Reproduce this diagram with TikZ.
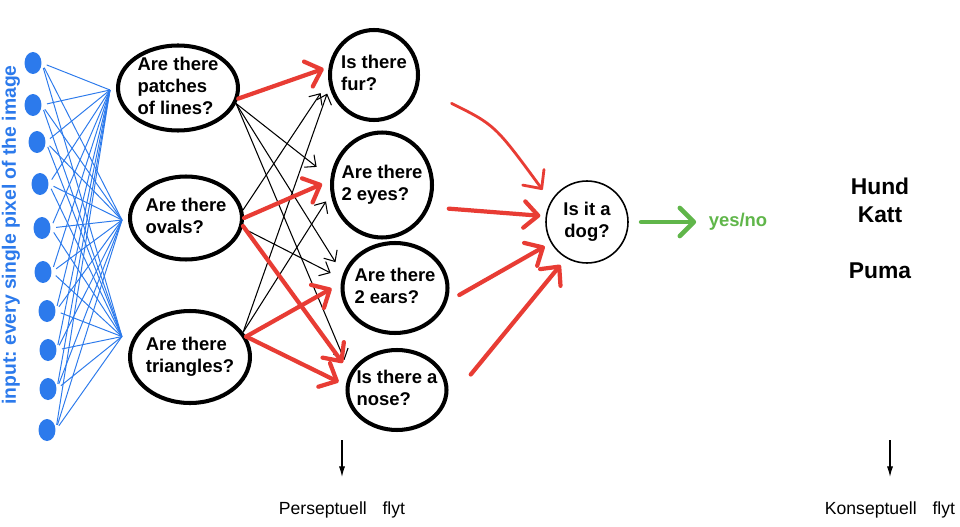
\documentclass[tikz,border=0pt]{standalone}
\usepackage{fontspec}
\setmainfont{Liberation Sans}
\usetikzlibrary{shapes.geometric,arrows.meta,calc}
\definecolor{inblue}{RGB}{44,122,236}
\definecolor{hred}{RGB}{232,60,52}
\definecolor{hgreen}{RGB}{96,182,74}
\newcommand\qtl[1]{\makebox[0pt]{\smash{\raisebox{-0.25em}{\begin{tabular}{@{}l@{}}#1\end{tabular}}}}}
\newcommand\qtc[1]{\makebox[0pt]{\smash{\raisebox{-0.25em}{\begin{tabular}{@{}c@{}}#1\end{tabular}}}}}
\frenchspacing
\begin{document}
\begin{tikzpicture}[x=0.02cm,y=-0.02cm,
  q/.style={ellipse, draw, line width=2.3pt, inner sep=0pt, font=\bfseries\fontsize{10.5}{12.5}\selectfont},
  bdot/.style={ellipse, fill=inblue, inner sep=0pt, minimum width=0.34cm, minimum height=0.44cm},
  blueln/.style={inblue, line width=0.55pt},
  redarr/.style={hred, line width=2.4pt, line cap=round, -{Straight Barb[length=8pt,width=15pt,round]}},
  blkarr/.style={black, line width=0.6pt, -{Straight Barb[length=5pt,width=9pt]}},
  greenarr/.style={hgreen, line width=2.6pt, line cap=round, -{Straight Barb[length=8pt,width=16pt,round]}},
  downarr/.style={black, line width=0.6pt, -{Latex[length=6pt,width=3.5pt]}},
  lab/.style={font=\fontsize{10}{12}\selectfont, inner sep=0pt},
  big/.style={font=\bfseries\fontsize{13}{15}\selectfont, inner sep=0pt}
]
\fill[white] (0,0) rectangle (960,527);
\useasboundingbox (0,0) rectangle (960,527);

% question nodes
\node[q, minimum width=2.4cm, minimum height=1.7cm] (A) at (178,88) {\qtl{Are there\\patches\\of lines?}};
\node[q, minimum width=2.24cm, minimum height=1.66cm] (B) at (186,218) {\qtl{Are there\\ovals?}};
\node[q, minimum width=2.4cm, minimum height=1.84cm] (C) at (190,357) {\qtl{Are there\\triangles?}};
\node[q, minimum width=1.76cm, minimum height=1.8cm] (fur) at (374,75) {\qtl{Is there\\fur?}};
\node[q, minimum width=2.0cm, minimum height=2.1cm] (eyes) at (382,185) {\qtl{Are there\\2 eyes?}};
\node[q, minimum width=2.1cm, minimum height=1.8cm] (ears) at (395,288) {\qtl{Are there\\2 ears?}};
\node[q, minimum width=1.98cm, minimum height=1.6cm] (nose) at (397,390) {\qtl{Is there a\\nose?}};
\node[q, line width=0.9pt, minimum width=1.64cm, minimum height=1.64cm] (dog) at (587,222) {\qtc{Is it a\\dog?}};

% input
\node[rotate=90, text=inblue, font=\bfseries\fontsize{11}{13}\selectfont, inner sep=0pt] (inp) at (11,235) {input: every single pixel of the image};
\foreach \n/\x/\y in {1/33/63, 2/33/105, 3/37/142, 4/40/184, 5/42/228, 6/43/272, 7/47/311, 8/48/350, 9/48/389, 10/47/430}
  \node[bdot] (d\n) at (\x,\y) {};
\coordinate (pA) at ($(A.west)+(-6,2)$);
\coordinate (pB) at ($(B.west)+(-6,2)$);
\coordinate (pC) at ($(C.160)+(-12,0)$);
\foreach \n in {1,...,10}{
  \foreach \p in {pA,pB,pC}{
    \draw[blueln, shorten <=3pt] (d\n.east) -- (\p);
  }
}

% black arrows
\draw[blkarr, shorten >=10pt] (A.-15) -- (eyes.172);
\draw[blkarr, shorten >=8pt] (A.-15) -- (ears.165);
\draw[blkarr, shorten >=8pt] (A.-15) -- (nose.160);
\draw[blkarr, shorten >=8pt] (B.8) -- (fur.188);
\draw[blkarr, shorten >=7pt] (B.-10) -- (ears.170);
\draw[blkarr, shorten >=4pt] (C.25) -- (fur.195);
\draw[blkarr, shorten >=5pt] (C.25) -- (eyes.190);

% red arrows
\draw[redarr, shorten >=3pt] (A.-10) -- (fur.170);
\draw[redarr, shorten >=5pt] (B.0) -- (eyes.175);
\draw[redarr, shorten >=7pt] (B.-8) -- (nose.160);
\draw[redarr, shorten >=6pt] (C.20) -- (ears.175);
\draw[redarr, shorten >=4.5pt] (C.20) -- (nose.175);

% to dog
\node[font=\bfseries\fontsize{10.5}{12}\selectfont, text=hgreen, inner sep=0pt] (yn) at (738,222) {yes/no};
\draw[redarr, line width=1.6pt, shorten <=21pt, shorten >=8pt] (fur.-15) .. controls (495,125) .. (dog.150);
\draw[redarr, shorten <=11pt, shorten >=3pt] (eyes.-25) -- (dog.172);
\draw[redarr, shorten <=8pt, shorten >=4pt] (ears.-15) -- (dog.210);
\draw[redarr, shorten <=24pt, shorten >=5pt] (nose.-20) -- (dog.240);
\draw[greenarr, shorten <=7pt, shorten >=7pt] (dog.east) -- (yn.west);

% categories
\node[big] (hund) at (880,186) {Hund};
\node[big] (katt) at (880,215) {Katt};
\node[big] (puma) at (880,271) {Puma};

% bottom labels
\node[lab] (pf) at (342,510) {Perseptuell\hspace{0.9em}flyt};
\node[lab] (kf) at (890,510) {Konseptuell\hspace{0.9em}flyt};
\coordinate (pft) at (342,440);
\coordinate (kft) at (890,440);
\draw[downarr, shorten >=14pt] (pft) -- (pf.north);
\draw[downarr, shorten >=14pt] (kft) -- (kf.north);
\end{tikzpicture}
\end{document}
